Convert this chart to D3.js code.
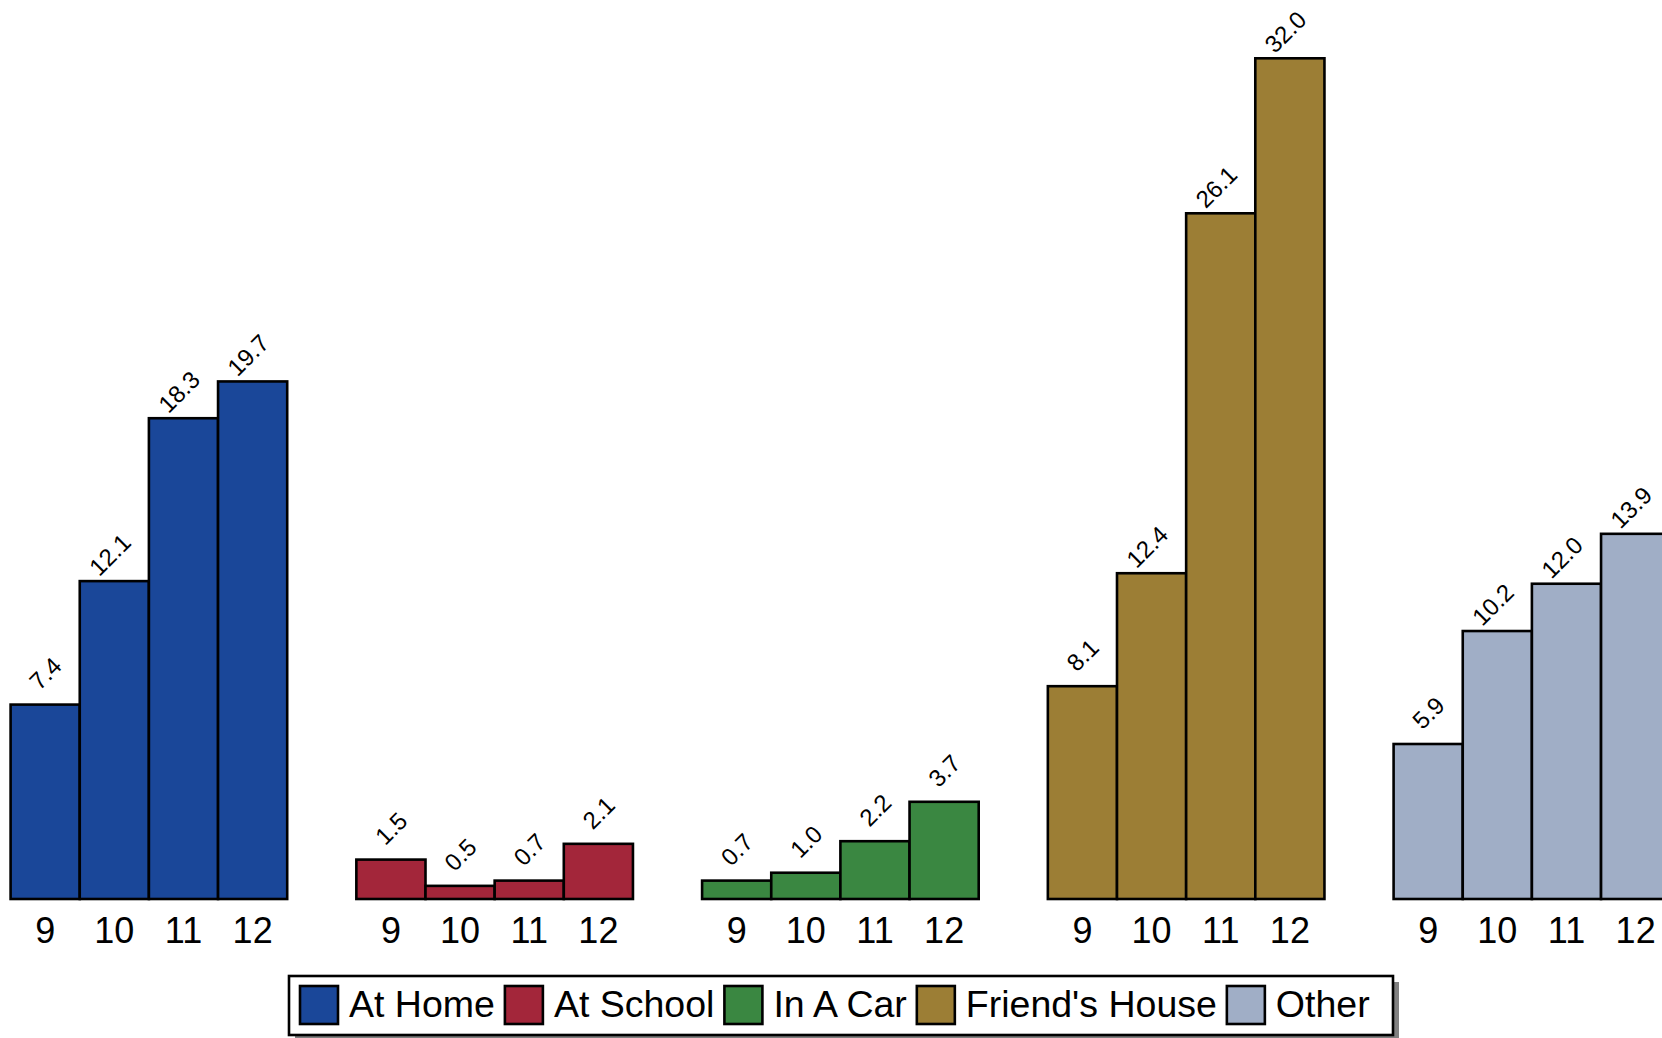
<!DOCTYPE html>
<html>
<head>
<meta charset="utf-8">
<script src="https://cdn.jsdelivr.net/npm/d3@7"></script>
<style>
  html, body { margin: 0; padding: 0; background: #fff; overflow: hidden; }
  svg { display: block; font-family: "Liberation Sans", Arial, Helvetica, sans-serif; }
</style>
</head>
<body>
<svg id="chart" width="1662" height="1038"></svg>
<script>
// Locations and grade levels
const locations = ["At Home", "At School", "In A Car", "Friend's House", "Other"];
const grades = ["9", "10", "11", "12"];

// Percent per grade, one array per location
const atHome = [7.4, 12.1, 18.3, 19.7];
const atSchool = [1.5, 0.5, 0.7, 2.1];
const inACar = [0.7, 1.0, 2.2, 3.7];
const friendsHouse = [8.1, 12.4, 26.1, 32.0];
const other = [5.9, 10.2, 12.0, 13.9];

const colors = ["#1a4799", "#a3263a", "#3a8741", "#9c7e35", "#a0aec6"];

const seriesValues = [atHome, atSchool, inACar, friendsHouse, other];

const svg = d3.select("#chart");

const baseY = 899;
const topY = 58.3;

const y = d3.scaleLinear().domain([0, 32]).range([baseY, topY]);

const x0 = d3.scaleBand()
  .domain(locations)
  .range([10.6, 1670.2])
  .paddingInner(0.2)
  .paddingOuter(0);

const x1 = d3.scaleBand()
  .domain(grades)
  .range([0, x0.bandwidth()])
  .padding(0);

const groups = svg.selectAll("g.group")
  .data(locations)
  .join("g")
  .attr("class", "group")
  .attr("transform", d => `translate(${x0(d)},0)`);

groups.each(function(loc, i) {
  const g = d3.select(this);
  const data = grades.map((gr, j) => ({ grade: gr, value: seriesValues[i][j] }));

  g.selectAll("rect")
    .data(data)
    .join("rect")
    .attr("x", d => x1(d.grade))
    .attr("y", d => y(d.value))
    .attr("width", x1.bandwidth())
    .attr("height", d => y(0) - y(d.value))
    .attr("fill", colors[i])
    .attr("stroke", "#000")
    .attr("stroke-width", 2.6);

  // value labels, tilted 45 degrees, ending just right of bar centre
  g.selectAll("text.val")
    .data(data)
    .join("text")
    .attr("class", "val")
    .attr("transform", d => `translate(${x1(d.grade) + x1.bandwidth() / 2 + 18},${y(d.value) - 37}) rotate(-45)`)
    .attr("text-anchor", "end")
    .attr("font-size", 24)
    .attr("fill", "#000")
    .text(d => d.value.toFixed(1));

  // grade axis under each group
  const axis = d3.axisBottom(x1).tickSize(0).tickPadding(0);
  const ag = g.append("g")
    .attr("transform", `translate(0,${baseY})`)
    .call(axis);
  ag.select(".domain").remove();
  ag.selectAll("text")
    .attr("font-size", 36)
    .attr("font-family", "'Liberation Sans', Arial, sans-serif")
    .attr("fill", "#000")
    .attr("dy", null)
    .attr("y", 44);
});

// Legend
const legX = 289, legY = 976, legW = 1104, legH = 59;
const legend = svg.append("g");
legend.append("rect")
  .attr("x", legX + 6).attr("y", legY + 6)
  .attr("width", legW).attr("height", legH)
  .attr("fill", "#808080");
legend.append("rect")
  .attr("x", legX).attr("y", legY)
  .attr("width", legW).attr("height", legH)
  .attr("fill", "#fff")
  .attr("stroke", "#000")
  .attr("stroke-width", 2.6);

let cx = 300;
locations.forEach((loc, i) => {
  legend.append("rect")
    .attr("x", cx).attr("y", 986)
    .attr("width", 38).attr("height", 38)
    .attr("fill", colors[i])
    .attr("stroke", "#000")
    .attr("stroke-width", 2.6);
  const t = legend.append("text")
    .attr("x", cx + 49).attr("y", 1017)
    .attr("font-size", 37.5)
    .attr("fill", "#000")
    .text(loc);
  cx += 49 + t.node().getComputedTextLength() + 10;
});
</script>
</body>
</html>
